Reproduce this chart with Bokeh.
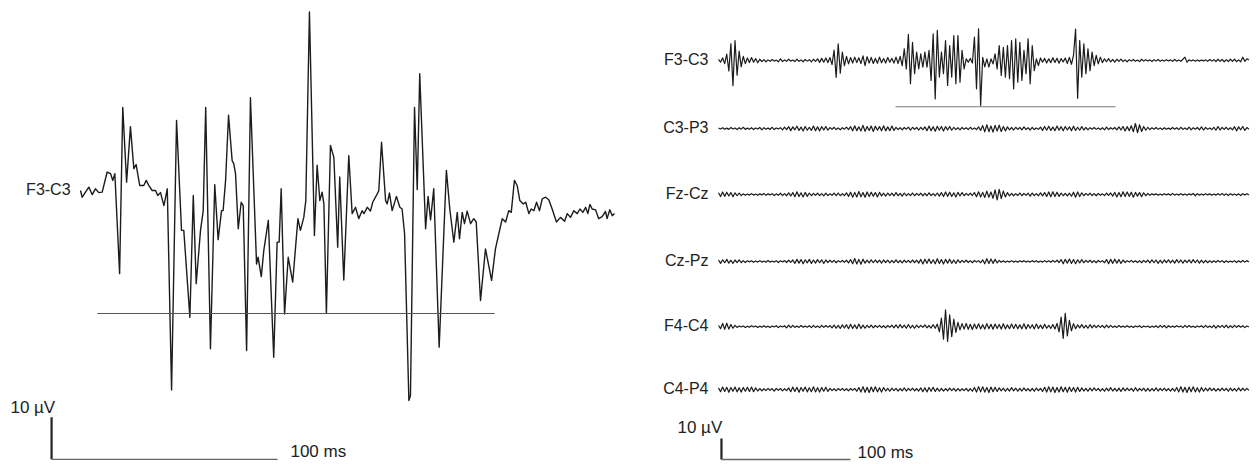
from bokeh.plotting import figure
from bokeh.layouts import row
from bokeh.models import Range1d
from bokeh.core.properties import value
from bokeh.embed import file_html
from bokeh.resources import INLINE

FONT = "Liberation Sans"
FS = "16px"
FS_SCALE = "17px"

# ---------------- data: left panel (zoomed F3-C3, ms / µV) ----------------
left_label = "F3-C3"
left_t = [0, 0.75, 2.2, 3.7, 5.2, 6.6, 8.1, 9.6, 11.8, 13.3, 14.3, 15.2, 17.3, 18.7, 20.4, 22.1,
          23.6, 24.6, 26.2, 28.0, 29.1, 30.2, 31.7, 33.2, 34.2, 35.4, 36.9, 38.4, 40.3, 42.5,
          44.7, 45.7, 48.4, 49.9, 51.2, 53.1, 54.3, 55.4, 57.5, 59.4, 60.9, 62.4, 63.1, 64.2,
          65.5, 67.1, 67.8, 68.6, 69.8, 71.1, 72.0, 73.5, 75.2, 77.9, 78.6, 80.0, 81.1, 83.1,
          85.5, 87.0, 87.9, 88.8, 90.3, 91.9, 93.9, 96.2, 97.3, 98.8, 99.7, 101.3, 103.5, 104.7,
          105.9, 106.9, 107.7, 108.8, 110.6, 112.1, 113.8, 114.7, 116.5, 118.7, 120.2, 121.7,
          123.1, 124.6, 125.4, 126.9, 128.3, 129.3, 131.3, 132.0, 133.2, 135.0, 135.7, 136.7,
          137.9, 139.8, 141.3, 142.3, 143.4, 145.3, 146.0, 147.8, 149.0, 150.1, 152.7, 153.8,
          154.9, 156.3, 158.7, 161.9, 163.4, 165.2, 166.7, 167.7, 168.9, 169.9, 171.1, 172.6,
          174.0, 175.1, 177.0, 179.2, 181.9, 183.6, 185.1, 186.6, 188.1, 189.5, 190.6, 192.0,
          193.2, 194.4, 195.9, 197.0, 198.4, 199.4, 200.6, 201.8, 203.1, 204.3, 205.8, 207.2,
          208.7, 210.6, 212.4, 214.2, 215.4, 216.8, 218.3, 219.8, 221.0, 222.3, 223.5, 224.5,
          225.4, 226.4, 227.9, 229.3, 230.8, 232.3, 233.0, 234.2, 235.3, 236.3]
left_v = [0, -1.6, -0.4, 0.8, -1.0, 0.4, -0.5, -0.4, 4.4, 4.0, 2.4, 4.0, -19.8, 19.8, 2.0, 15.2,
          5.2, 6.2, 1.2, 1.2, 2.4, 1.2, 0, 0, -1.2, -0.5, -3.6, 0.4, -47.5, 16.7, -9.5, -9.5,
          -30.2, -1.2, -22.2, -9.5, -4.8, 19.8, -37.7, 1.4, -11.7, -4.8, -4.8, 2.4, 17.9, 7.1,
          6.4, 4.0, -9.1, -2.8, -3.6, -38.1, 22.1, -17.5, -15.9, -20.5, -14.3, -7.1, -39.7,
          -12.3, -12.3, 0.4, -29.4, -15.9, -21.8, -6.7, -9.5, -6.4, -2.4, 42.5, -10.7, 6.0,
          -2.4, -0.4, -3.2, -29.2, 10.7, 7.9, -13.5, 3.2, -21.3, 8.3, -5.5, -4.0, -6.7, -4.8,
          -5.5, -4.0, -4.9, -2.8, -0.8, 0, 11.5, -2.4, -3.2, -0.6, -4.8, -1.4, -4.0, -4.4,
          -10.3, -50.0, -48.8, 19.8, 0.2, 27.8, -9.1, -1.4, -7.0, 0.4, -37.3, 4.8, -4.4, -12.3,
          -5.2, -11.5, -5.2, -7.9, -4.9, -7.9, -6.7, -7.5, -26.2, -13.9, -21.4, -13.9, -10.3,
          -6.7, -7.5, -4.8, -5.2, 2.4, 1.2, -2.4, -3.2, -2.8, -5.5, -4.4, -4.8, -2.8, -4.8,
          -2.0, -1.6, -2.2, -4.4, -7.5, -6.4, -7.3, -5.5, -6.4, -4.8, -5.5, -4.4, -5.2, -4.0,
          -5.5, -3.3, -4.4, -4.6, -6.7, -6.2, -5.0, -6.7, -4.6, -6.0, -5.5]
left_marker_ms = [7.5, 183.2]
left_marker_uv = -29.3

# ---------------- data: right panel (6 channels, 1.6 ms samples, µV) ----------------
channels = ["F3-C3", "C3-P3", "Fz-Cz", "Cz-Pz", "F4-C4", "C4-P4"]
sample_ms = 1.6

f3c3 = [0.5,-0.8,1.2,-1.5,3.0,-5.0,8.0,-12.0,9.5,-7.0,4.5,-3.0,2.0,-1.5,1.2,-1.0,
        1.4,-0.8,0.9,-1.1,0.6,-0.5,0.4,-0.6,0.3,-0.4,0.5,-0.3,0.2,-0.6,0.8,-0.5,
        0.3,-0.4,0.6,-0.3,0.2,-0.5,0.7,-0.4,0.3,-0.6,0.5,-0.3,0.4,-0.7,0.6,-0.4,
        0.8,-0.9,1.0,-0.8,1.2,-1.0,1.4,-2.0,5.0,-8.0,7.9,-6.0,4.0,-2.5,2.0,-1.6,
        1.4,-1.2,1.6,-1.0,1.3,-1.5,2.2,-2.4,1.8,-1.2,1.5,-1.4,1.0,-1.3,1.6,-1.1,
        0.9,-1.2,1.4,-0.8,1.0,-1.2,1.6,-1.4,2.0,-2.5,5.6,-4.0,12.4,-11.1,8.7,-6.3,
        4.0,-4.0,3.2,-3.2,4.0,-3.2,4.8,-9.5,12.7,-18.3,14.3,-7.9,4.0,-6.3,9.5,-11.9,
        7.1,-7.9,11.9,-11.1,11.9,-10.3,4.8,-4.0,0.8,-0.8,1.0,-1.2,11.1,-13.5,15.1,-21.4,
        1.5,-3.0,0.8,-3.2,0.8,-1.6,3.2,-4.0,7.1,-7.1,6.3,-7.9,7.1,-8.7,9.5,-13.5,
        10.3,-10.3,8.7,-9.5,4.8,-6.3,10.3,-11.1,7.1,-4.8,0.8,-2.4,1.2,-0.8,1.0,-1.2,
        0.8,-1.0,1.3,-0.9,1.1,-1.3,0.9,-0.7,1.2,-1.4,1.5,-1.8,2.5,15.0,-18.0,9.5,
        -7.9,7.9,-6.3,5.6,-4.8,4.0,-2.4,2.4,-1.6,1.6,-1.0,0.8,-0.6,0.9,-0.7,0.5,
        -0.8,0.6,-0.4,0.7,-0.5,0.3,-0.6,0.4,-0.3,0.5,-0.4,0.2,-0.5,0.6,-0.3,0.4,
        -0.2,0.3,-0.5,0.4,-0.3,0.5,-0.4,0.2,-0.3,0.4,-0.2,0.3,-0.4,0.5,-0.3,0.2,
        -0.4,0.6,1.6,-0.8,0.3,-0.2,0.3,-0.4,0.2,-0.3,0.2,-0.2,0.3,-0.4,0.5,-0.3,
        0.4,-0.5,0.6,-0.4,0.5,-0.6,0.4,-0.5,0.7,-0.4,0.6,-0.5,0.3,-0.6,1.6,-0.4,
        0.8,0.2]

c3p3 = [0.3,-0.2,0.4,-0.3,0.2,-0.4,0.5,-0.2,0.3,-0.5,0.4,-0.3,0.6,-0.4,0.2,-0.3,
        0.4,-0.5,0.3,-0.2,0.5,-0.6,0.4,-0.3,0.2,-0.4,0.6,-0.5,0.3,-0.2,0.4,-0.6,
        0.7,-0.5,0.9,-1.0,0.8,-0.6,1.1,-0.9,0.7,-1.2,1.0,-0.8,0.6,-0.9,1.2,-1.0,
        0.8,-1.1,0.9,-0.7,1.0,-0.8,0.5,-0.4,0.6,-0.5,0.3,-0.6,0.4,-0.3,0.7,-0.5,
        0.9,-1.1,1.3,-1.0,0.8,-1.2,1.5,-1.3,1.0,-0.9,1.2,-1.4,1.1,-0.8,0.9,-1.0,
        1.3,-1.1,0.8,-1.0,1.2,-0.9,0.6,-0.5,0.4,-0.6,0.5,-0.3,0.7,-0.8,0.6,-0.4,
        0.5,-0.7,0.6,-0.5,0.8,-1.0,1.2,-1.1,0.9,-1.3,1.1,-0.8,1.0,-1.2,0.9,-0.7,
        1.0,-0.8,0.6,-0.5,0.4,-0.6,0.5,-0.3,0.4,-0.5,0.6,-0.4,0.3,-0.5,0.8,-0.9,
        1.4,-1.6,1.8,-1.5,1.2,-1.7,1.5,-1.2,1.6,-1.4,1.0,-1.1,0.8,-0.6,0.5,-0.7,
        0.6,-0.4,0.5,-0.6,0.8,-0.5,0.4,-0.7,0.6,-0.5,0.3,-0.4,0.7,-0.9,1.0,-0.8,
        1.1,-0.9,0.7,-1.0,1.2,-0.8,0.9,-1.1,1.0,-0.7,0.8,-1.0,1.1,-0.9,0.6,-0.8,
        0.9,-0.7,0.5,-0.6,0.4,-0.3,0.5,-0.4,0.3,-0.5,0.4,-0.6,0.7,-0.5,0.4,-0.3,
        0.5,-0.6,0.8,-0.7,1.0,-1.2,0.9,-1.0,1.3,-1.5,2.4,-2.0,1.8,-1.4,1.0,-0.8,
        0.6,-0.5,0.4,-0.3,0.5,-0.4,0.3,-0.5,0.4,-0.3,0.2,-0.4,0.5,-0.3,0.4,-0.5,
        0.6,-0.4,0.3,-0.5,0.7,-0.6,0.4,-0.3,0.5,-0.6,0.8,-0.7,0.5,-0.4,0.3,-0.5,
        0.6,-0.8,1.0,-0.7,0.5,-0.4,0.6,-0.5,0.4,-0.6,0.9,-1.1,0.8,-0.6,1.0,-0.9,
        0.5,-0.3]

fzcz = [0.8,-1.0,1.2,-0.9,1.1,-0.7,0.9,-1.1,0.8,-0.6,0.7,-0.5,0.3,-0.4,0.2,-0.3,
        0.4,-0.3,0.2,-0.4,0.3,-0.2,0.5,-0.4,0.3,-0.2,0.4,-0.5,0.3,-0.4,0.6,-0.5,
        0.4,-0.6,0.8,-0.7,0.9,-1.1,1.3,-1.0,0.8,-1.2,1.0,-0.9,0.7,-0.6,0.5,-0.4,
        0.6,-0.5,0.4,-0.7,0.6,-0.5,0.3,-0.4,0.6,-0.5,0.7,-0.6,0.4,-0.5,0.8,-0.9,
        1.1,-1.3,1.0,-1.2,1.4,-1.1,0.9,-1.3,1.2,-1.0,1.1,-0.8,0.9,-1.2,1.0,-0.7,
        0.6,-0.8,0.7,-0.5,0.6,-0.7,0.9,-0.6,0.5,-0.8,0.7,-0.6,0.4,-0.5,0.7,-0.6,
        0.5,-0.4,0.6,-0.7,0.5,-0.6,0.8,-0.5,0.4,-0.6,0.7,-0.8,0.9,-1.0,1.2,-0.9,
        1.1,-1.0,0.8,-1.2,1.0,-0.7,0.9,-0.6,0.5,-0.4,0.6,-0.5,0.9,-1.1,1.3,-1.2,
        1.0,-1.4,1.6,-1.3,1.2,-1.8,2.2,-2.6,2.4,-2.0,1.6,-1.2,0.9,-0.7,0.5,-0.6,
        0.4,-0.5,0.7,-0.6,0.5,-0.4,0.6,-0.8,0.7,-0.5,0.4,-0.6,0.8,-0.7,0.9,-1.0,
        1.2,-1.1,1.3,-1.0,1.1,-0.9,0.7,-0.6,0.5,-0.7,0.6,-0.8,1.1,-1.3,1.2,-1.0,
        0.8,-0.6,0.5,-0.4,0.6,-0.5,0.4,-0.6,0.5,-0.4,0.3,-0.5,0.6,-0.4,0.7,-0.8,
        1.0,-1.2,0.9,-1.1,1.3,-1.0,1.2,-0.9,1.1,-1.3,1.0,-0.8,0.9,-1.1,0.8,-0.6,
        0.5,-0.4,0.3,-0.2,0.3,-0.4,0.2,-0.3,0.4,-0.2,0.3,-0.4,0.5,-0.3,0.2,-0.3,
        0.4,-0.3,0.2,-0.4,0.3,-0.2,0.5,-0.6,0.4,-0.3,0.2,-0.3,0.4,-0.2,0.3,-0.4,
        0.2,-0.3,0.4,-0.3,0.5,-0.4,0.3,-0.5,0.4,-0.3,0.2,-0.4,0.3,-0.5,0.4,-0.3,
        0.4,-0.2]

czpz = [0.7,-0.9,0.8,-0.6,1.0,-0.8,0.6,-0.9,0.7,-0.5,0.8,-0.6,0.4,-0.5,0.3,-0.2,
        0.3,-0.4,0.2,-0.3,0.4,-0.3,0.2,-0.4,0.5,-0.3,0.2,-0.3,0.4,-0.5,0.3,-0.2,
        0.4,-0.5,0.6,-0.4,0.7,-0.9,1.0,-0.8,0.9,-1.1,0.8,-0.7,1.0,-0.9,0.7,-0.8,
        0.9,-0.6,0.8,-1.0,0.7,-0.5,0.6,-0.4,0.5,-0.6,0.4,-0.3,0.5,-0.4,0.6,-0.7,
        0.9,-1.1,1.4,-1.2,1.0,-1.3,1.1,-0.8,0.6,-0.7,0.8,-0.6,0.7,-0.5,0.6,-0.8,
        0.7,-0.5,0.6,-0.7,0.5,-0.6,0.8,-0.6,0.5,-0.7,0.6,-0.4,0.5,-0.6,0.7,-0.5,
        0.6,-0.8,1.0,-1.2,1.1,-0.9,1.2,-1.0,0.8,-1.1,1.3,-1.0,0.9,-1.2,1.0,-0.8,
        1.1,-0.9,0.7,-1.0,0.8,-0.6,0.5,-0.4,0.6,-0.5,0.4,-0.6,0.5,-0.3,0.4,-0.6,
        0.8,-1.1,1.3,-1.0,1.2,-0.9,1.0,-0.7,0.5,-0.4,0.3,-0.4,0.2,-0.3,0.4,-0.3,
        0.2,-0.4,0.3,-0.2,0.4,-0.3,0.2,-0.3,0.4,-0.2,0.3,-0.4,0.2,-0.3,0.4,-0.3,
        0.3,-0.4,0.5,-0.3,0.6,-0.5,0.9,-1.1,1.0,-0.8,1.2,-1.0,0.9,-1.1,0.8,-0.7,
        0.9,-0.6,0.5,-0.4,0.6,-0.5,0.4,-0.6,0.5,-0.3,0.4,-0.6,0.9,-1.1,1.0,-0.9,
        1.1,-0.8,0.9,-1.0,0.7,-0.5,0.4,-0.3,0.5,-0.4,0.3,-0.5,0.4,-0.6,0.5,-0.4,
        0.6,-0.7,0.8,-0.6,0.7,-0.9,0.6,-0.8,0.7,-0.5,0.8,-0.7,0.6,-0.8,0.9,-0.6,
        0.7,-0.8,0.6,-0.5,0.8,-0.7,0.9,-0.6,0.7,-0.8,0.6,-0.7,0.5,-0.6,0.4,-0.5,
        0.3,-0.4,0.5,-0.3,0.4,-0.5,0.3,-0.4,0.2,-0.3,0.4,-0.5,0.3,-0.4,0.5,-0.3,
        0.4,-0.2]

f4c4 = [0.5,-1.0,1.5,-1.3,1.6,-1.2,1.0,-0.8,0.6,-0.4,0.3,-0.2,0.3,-0.4,0.2,-0.3,
        0.4,-0.2,0.3,-0.4,0.2,-0.3,0.4,-0.3,0.2,-0.4,0.3,-0.2,0.4,-0.5,0.3,-0.2,
        0.4,-0.6,0.7,-0.5,0.6,-0.4,0.3,-0.4,0.5,-0.3,0.2,-0.3,0.4,-0.5,0.6,-0.4,
        0.3,-0.5,0.6,-0.4,0.5,-0.3,0.4,-0.6,0.7,-0.8,0.6,-0.9,0.8,-0.7,0.9,-1.0,
        1.1,-0.9,0.8,-1.0,1.2,-0.9,0.7,-0.8,0.6,-0.5,0.7,-0.6,0.5,-0.4,0.6,-0.5,
        0.4,-0.6,0.5,-0.4,0.7,-0.6,0.8,-0.7,0.9,-0.6,0.7,-0.8,1.0,-0.7,0.6,-0.8,
        0.7,-0.5,0.6,-0.4,0.8,-0.6,0.5,-0.7,0.9,-0.8,1.2,-2.5,4.0,-6.0,8.0,-7.1,
        5.6,-4.8,3.5,-2.8,2.0,-1.6,1.4,-1.2,1.5,-1.3,1.1,-1.4,1.2,-1.0,1.3,-1.1,
        0.9,-1.2,1.4,-1.0,1.1,-1.3,1.2,-0.9,1.0,-1.2,1.3,-1.1,0.8,-1.0,1.2,-0.9,
        1.1,-1.0,0.8,-1.1,1.3,-1.2,1.0,-0.8,0.9,-1.1,1.2,-0.9,0.7,-1.0,1.1,-0.8,
        0.6,-0.9,1.0,-1.2,1.5,-2.5,4.5,-5.6,6.3,-4.5,3.0,-2.0,1.4,-1.0,0.8,-0.6,
        0.9,-0.7,0.6,-0.8,0.9,-0.6,0.7,-0.5,0.6,-0.4,0.5,-0.6,0.7,-0.5,0.6,-0.4,
        0.3,-0.4,0.5,-0.3,0.2,-0.3,0.4,-0.3,0.2,-0.4,0.3,-0.2,0.4,-0.5,0.3,-0.2,
        0.3,-0.4,0.2,-0.3,0.4,-0.5,0.6,-0.4,0.5,-0.6,0.4,-0.3,0.2,-0.3,0.4,-0.2,
        0.3,-0.5,0.6,-0.4,0.5,-0.3,0.2,-0.4,0.3,-0.2,0.4,-0.5,0.6,-0.4,0.3,-0.5,
        0.6,-0.7,0.5,-0.4,0.6,-0.5,0.7,-0.6,0.4,-0.5,0.6,-0.4,0.5,-0.3,0.4,-0.5,
        0.3,-0.2]

c4p4 = [0.8,-1.0,1.2,-0.9,1.1,-1.3,1.0,-0.8,1.2,-1.1,0.9,-1.2,1.0,-0.8,1.1,-0.9,
        1.2,-1.0,0.8,-0.7,0.5,-0.6,0.4,-0.5,0.6,-0.4,0.5,-0.7,0.6,-0.4,0.5,-0.6,
        0.4,-0.5,0.8,-1.0,1.2,-0.9,1.1,-1.3,1.0,-0.8,1.2,-1.1,0.9,-1.0,1.3,-1.1,
        0.9,-1.2,1.0,-0.8,1.1,-0.9,0.6,-0.5,0.4,-0.6,0.5,-0.4,0.6,-0.5,0.4,-0.6,
        0.5,-0.4,0.6,-0.8,1.0,-1.2,1.4,-1.3,1.1,-1.4,1.2,-1.0,1.3,-1.1,0.9,-1.2,
        1.0,-0.7,0.6,-0.8,0.7,-0.5,0.6,-0.7,0.5,-0.6,0.8,-0.7,0.6,-0.5,0.7,-0.6,
        0.5,-0.7,0.8,-1.0,0.9,-1.1,1.0,-0.8,1.1,-0.9,0.7,-0.8,0.6,-0.7,0.5,-0.6,
        0.7,-0.5,0.6,-0.7,0.5,-0.6,0.4,-0.5,0.6,-0.7,0.5,-0.8,1.0,-1.2,1.4,-1.1,
        1.3,-1.2,1.0,-1.4,1.2,-1.0,1.1,-0.9,0.8,-0.6,0.7,-0.8,0.6,-0.7,0.9,-0.6,
        0.7,-0.8,0.6,-0.7,0.8,-0.6,0.5,-0.7,0.6,-0.8,0.7,-0.5,0.6,-0.9,1.1,-1.2,
        1.3,-1.1,1.2,-1.4,1.0,-1.2,1.3,-1.0,1.1,-1.3,1.2,-0.9,1.0,-1.2,1.1,-0.9,
        0.8,-0.7,0.6,-0.8,0.7,-0.6,0.8,-0.5,0.6,-0.7,0.5,-0.8,0.7,-0.6,0.9,-0.7,
        0.6,-0.8,0.7,-0.9,0.8,-0.6,0.7,-0.5,0.6,-0.8,0.9,-0.7,0.6,-0.5,0.7,-0.8,
        0.6,-0.7,0.5,-0.6,0.8,-0.7,0.6,-0.5,0.7,-0.6,0.5,-0.7,0.6,-0.8,1.0,-1.1,
        1.3,-1.2,1.1,-1.4,1.2,-1.0,1.3,-1.1,0.9,-1.2,1.0,-0.8,0.7,-0.6,0.8,-0.5,
        0.6,-0.7,0.5,-0.6,0.7,-0.5,0.6,-0.8,0.7,-0.6,0.5,-0.7,0.8,-0.6,0.7,-0.5,
        0.6,-0.4]

right_traces = [f3c3, c3p3, fzcz, czpz, f4c4, c4p4]
right_marker_ms = [137.2, 307.8]
right_marker_uv = -22.0

scale_ms = 100
scale_uv = 10
scale_labels = ["10 µV", "100 ms"]

# ---------------- layout helpers ----------------
INK = "#1c1c1c"
H = 462


def base_fig(w, h, xr, yr):
    f = figure(width=w, height=h, x_range=Range1d(*xr), y_range=Range1d(*yr),
               output_backend="svg", toolbar_location=None,
               x_axis_location=None, y_axis_location=None,
               min_border=0, min_border_left=0, min_border_right=0,
               min_border_top=0, min_border_bottom=0,
               outline_line_color=None, background_fill_color="white",
               border_fill_color="white")
    f.grid.visible = False
    return f


def add_text(f, x, y, txt, align, size=FS):
    f.text(x=[x], y=[y], text=[txt], text_font=value(FONT), text_font_size=size,
           text_align=align, text_baseline="middle", text_color="#222222")


# ---------------- left panel (page x 0..640, 2.26 px/ms, 4.2 px/µV) ----------------
lx0 = -80 / 2.26
ly1 = 190 / 4.2
left = base_fig(640, H, (lx0, lx0 + 640 / 2.26), (ly1 - H / 4.2, ly1))
n = min(len(left_t), len(left_v))
left.line(left_t[:n], left_v[:n], line_color=INK, line_width=1.4, line_join="round")
left.line(left_marker_ms, [left_marker_uv, left_marker_uv], line_color="#555555", line_width=1.1)
add_text(left, -4.4, 0.3, left_label, "right")

sb_t, sb_v = -12.8, -64.0
left.line([sb_t, sb_t], [sb_v, sb_v + scale_uv], line_color="#222222", line_width=2.2)
left.line([sb_t, sb_t + scale_ms], [sb_v, sb_v], line_color="#666666", line_width=1.3)
add_text(left, -31.0, -51.7, scale_labels[0], "left", FS_SCALE)
add_text(left, 92.9, -62.2, scale_labels[1], "left", FS_SCALE)

# ---------------- right panel (page x 640..1255, 1.29 px/ms, 2.1 px/µV) ----------------
rx0 = -(718 - 640) / 1.29
ry1 = 60 / 2.1
right = base_fig(615, H, (rx0, rx0 + 615 / 1.29), (ry1 - H / 2.1, ry1))
offsets = [0.0, -32.4, -63.8, -95.7, -126.7, -156.7]
for name, vals, off in zip(channels, right_traces, offsets):
    ts = [i * sample_ms for i in range(len(vals))]
    right.line(ts, [v + off for v in vals], line_color=INK, line_width=1.2, line_join="round")
    add_text(right, -7.75, off + 0.3, name, "right")
right.line(right_marker_ms, [right_marker_uv, right_marker_uv], line_color="#777777", line_width=1.1)

rb_t, rb_v = 2.3, -190.0
right.line([rb_t, rb_t], [rb_v, rb_v + scale_uv], line_color="#222222", line_width=2.2)
right.line([rb_t, rb_t + scale_ms], [rb_v, rb_v], line_color="#666666", line_width=1.3)
add_text(right, -31.8, -174.8, scale_labels[0], "left", FS_SCALE)
add_text(right, 107.8, -186.6, scale_labels[1], "left", FS_SCALE)

p = row(left, right)
open("out.html", "w").write(file_html(p, INLINE))
